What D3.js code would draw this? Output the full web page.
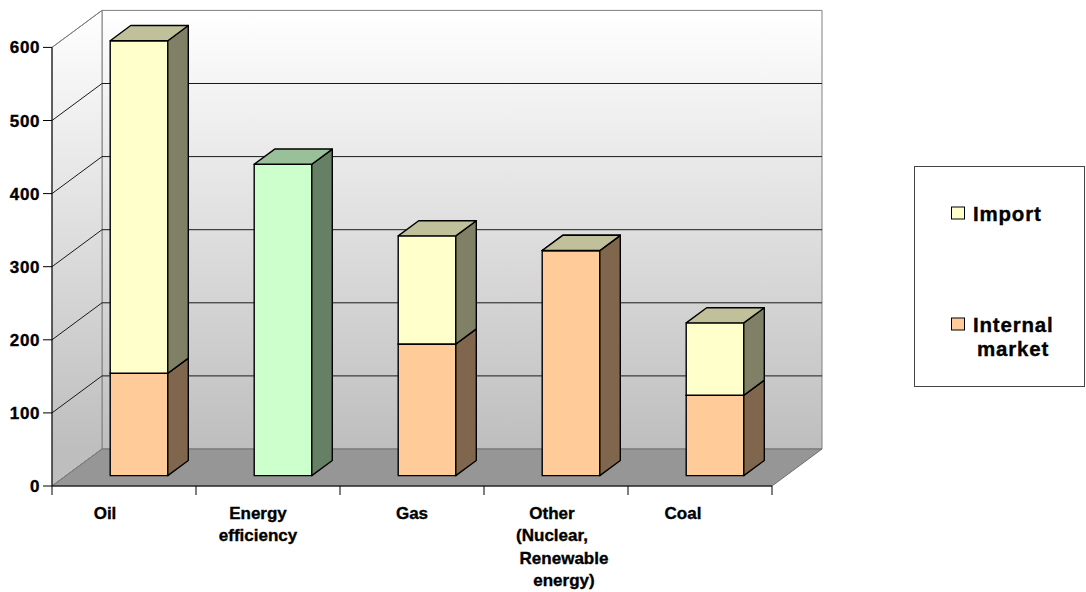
<!DOCTYPE html>
<html>
<head>
<meta charset="utf-8">
<script src="https://cdn.jsdelivr.net/npm/d3@7/dist/d3.min.js"></script>
<style>
  html, body { margin: 0; padding: 0; background: #ffffff; }
  svg { display: block; font-family: "Liberation Sans", Arial, sans-serif; font-weight: bold; }
  text { stroke: #000; stroke-width: 0.35px; }
</style>
</head>
<body>
<svg id="chart" width="1086" height="592"></svg>
<script>
// Categories (each label split into its display lines)
const categories = ["Oil", "Energy efficiency", "Gas", "Other (Nuclear, Renewable energy)", "Coal"];
const categoryLines = [
  ["Oil"],
  ["Energy", "efficiency"],
  ["Gas"],
  ["Other", "(Nuclear,", "Renewable", "energy)"],
  ["Coal"]
];

// Series values (null = no segment for that category)
const internalMarket = [140, null, 180, 308, 110];
const importValues   = [455, null, 148, 0, 99];
const efficiency     = [null, 426, null, null, null];

const yTicks = [0, 100, 200, 300, 400, 500, 600];
const legendLabels = [["Import"], ["Internal", "market"]];

// ---- layout ----
const svg = d3.select("#chart");
const DX = 50, DY = 37;          // wall depth offset
const D0 = 0.28, D1 = 0.69;      // bar depth (front / back) as wall-depth fraction

const y = d3.scaleLinear().domain([0, 600]).range([486, 47.4]);
const x = d3.scaleBand().domain(categories).range([52, 772]).padding(0);
const barW = x.bandwidth() * 0.4;

const proj = (px, v, d) => [px + d * DX, y(v) - d * DY];

// series styling: front, top, side
const styles = {
  internal:   { front: "#FFCC99", top: "#BF9973", side: "#7F664C" },
  imp:        { front: "#FFFFCC", top: "#C0C09A", side: "#808066" },
  efficiency: { front: "#CCFFCC", top: "#99C099", side: "#668066" }
};

const defs = svg.append("defs");
const grad = defs.append("linearGradient")
  .attr("id", "wallGrad").attr("gradientUnits", "userSpaceOnUse")
  .attr("x1", 0).attr("y1", y(600) - DY).attr("x2", 0).attr("y2", y(0) - DY);
grad.append("stop").attr("offset", 0).attr("stop-color", "#FFFFFF");
grad.append("stop").attr("offset", 1).attr("stop-color", "#BEBEBE");

const x0 = x.range()[0], x1 = x.range()[1];
const poly = pts => "M" + pts.map(p => p.join(",")).join("L") + "Z";

// back wall
svg.append("path")
  .attr("d", poly([proj(x0, 600, 1), proj(x1, 600, 1), proj(x1, 0, 1), proj(x0, 0, 1)]))
  .attr("fill", "url(#wallGrad)").attr("stroke", "#808080").attr("stroke-width", 1);

// side wall
svg.append("path")
  .attr("d", poly([proj(x0, 600, 0), proj(x0, 600, 1), proj(x0, 0, 1), proj(x0, 0, 0)]))
  .attr("fill", "url(#wallGrad)").attr("stroke", "#808080").attr("stroke-width", 1);

// floor
svg.append("path")
  .attr("d", poly([proj(x0, 0, 0), proj(x1, 0, 0), proj(x1, 0, 1), proj(x0, 0, 1)]))
  .attr("fill", "#969696").attr("stroke", "#707070").attr("stroke-width", 1);

// gridlines on back wall and side wall
const grid = svg.append("g").attr("fill", "none").attr("stroke", "#1a1a1a").attr("stroke-width", 1);
yTicks.filter(t => t > 0 && t < 600).forEach(t => {
  grid.append("path").attr("d", "M" + proj(x0, t, 0) + "L" + proj(x0, t, 1) + "L" + proj(x1, t, 1));
});
svg.append("path").attr("d", "M" + proj(x0, 600, 0) + "L" + proj(x0, 600, 1))
  .attr("stroke", "#808080").attr("fill", "none");
svg.append("path").attr("d", "M" + proj(x0, 0, 0) + "L" + proj(x0, 0, 1))
  .attr("stroke", "#808080").attr("fill", "none");

// bars
const seriesOrder = [
  { key: "internal", values: internalMarket },
  { key: "imp", values: importValues },
  { key: "efficiency", values: efficiency }
];
const bars = svg.append("g").attr("stroke", "#000").attr("stroke-width", 1.4).attr("stroke-linejoin", "round");
categories.forEach((c, i) => {
  const left = x(c) + (x.bandwidth() - barW) / 2 + 1;
  const right = left + barW;
  let base = 0;
  seriesOrder.forEach(s => {
    const v = s.values[i];
    if (v === null) return;
    const lo = base, hi = base + v;
    base = hi;
    const st = styles[s.key];
    const g = bars.append("g");
    // front face
    g.append("path").attr("fill", st.front)
      .attr("d", poly([proj(left, lo, D0), proj(right, lo, D0), proj(right, hi, D0), proj(left, hi, D0)]));
    // side face
    g.append("path").attr("fill", st.side)
      .attr("d", poly([proj(right, lo, D0), proj(right, lo, D1), proj(right, hi, D1), proj(right, hi, D0)]));
    // top face
    g.append("path").attr("fill", st.top)
      .attr("d", poly([proj(left, hi, D0), proj(right, hi, D0), proj(right, hi, D1), proj(left, hi, D1)]));
  });
});

// y axis
const yAxis = svg.append("g");
yAxis.append("line").attr("x1", x0).attr("x2", x0).attr("y1", y(600)).attr("y2", y(0))
  .attr("stroke", "#000");
yTicks.forEach(t => {
  yAxis.append("line").attr("x1", x0 - 9).attr("x2", x0).attr("y1", y(t)).attr("y2", y(t)).attr("stroke", "#000");
  yAxis.append("text").attr("x", x0 - 12).attr("y", y(t) + 6)
    .attr("text-anchor", "end").attr("font-size", 17).attr("letter-spacing", 0.6)
    .attr("fill", "#000").text(t);
});

// x axis
const xAxis = svg.append("g");
xAxis.append("line").attr("x1", x0).attr("x2", x1).attr("y1", y(0)).attr("y2", y(0)).attr("stroke", "#000");
[x0, ...categories.map(c => x(c) + x.bandwidth())].forEach(px => {
  xAxis.append("line").attr("x1", px).attr("x2", px).attr("y1", y(0)).attr("y2", y(0) + 9).attr("stroke", "#000");
});
const labelNudge = [-19, -10, 0, -4, -17];
categories.forEach((c, i) => {
  const t = xAxis.append("text").attr("text-anchor", "middle").attr("font-size", 17).attr("fill", "#000");
  categoryLines[i].forEach((line, j) => {
    t.append("tspan").attr("x", x(c) + x.bandwidth() / 2 + labelNudge[i] + (j >= 2 ? 12 : 0))
      .attr("y", 519 + j * 22.3).text(line);
  });
});

// legend
const legend = svg.append("g");
legend.append("rect").attr("x", 914.5).attr("y", 166.5).attr("width", 170).attr("height", 220)
  .attr("fill", "#fff").attr("stroke", "#444").attr("stroke-width", 1);
const legendFill = [styles.imp.front, styles.internal.front];
const legendY = [213, 324];
legendLabels.forEach((lines, i) => {
  legend.append("rect").attr("x", 951.5).attr("y", legendY[i] - 6).attr("width", 13).attr("height", 12)
    .attr("fill", legendFill[i]).attr("stroke", "#000").attr("stroke-width", 1);
  const t = legend.append("text").attr("font-size", 20.5).attr("letter-spacing", 0.8).attr("fill", "#000");
  lines.forEach((line, j) => {
    t.append("tspan").attr("x", j === 0 ? 973 : 977).attr("y", legendY[i] + 8 + j * 24).text(line);
  });
});
</script>
</body>
</html>
